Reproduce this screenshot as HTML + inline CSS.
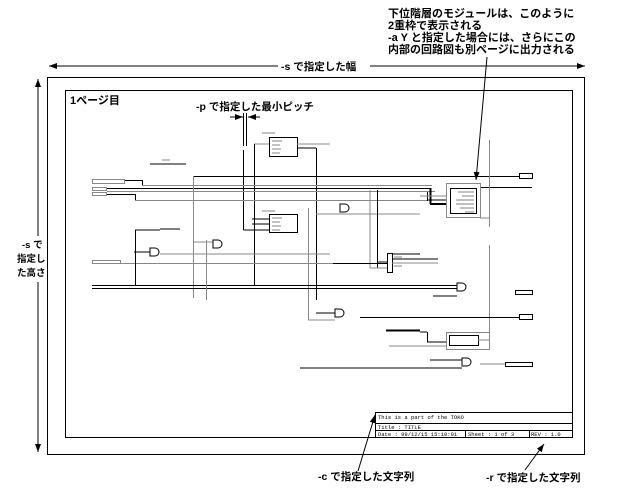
<!DOCTYPE html>
<html><head><meta charset="utf-8"><style>
html,body{margin:0;padding:0;background:#fff;}
svg{display:block;}
text{font-family:"Liberation Sans","Noto Sans CJK JP",sans-serif;font-weight:bold;fill:#000;}
.t{font-size:11px;}
.h{font-size:9.5px;}
.m{font-family:"Liberation Mono",monospace;font-size:5.5px;font-weight:normal;}
.g line{stroke:#999;stroke-width:1.2;}
</style></head><body>
<svg width="620" height="489" viewBox="0 0 620 489" xmlns="http://www.w3.org/2000/svg">
<defs>
<marker id="a" markerWidth="8" markerHeight="6" refX="8" refY="3" orient="auto" markerUnits="userSpaceOnUse"><path d="M0,0 L8,3 L0,6 z" fill="#000"/></marker>
</defs>
<text class="t" x="388" y="17">下位階層のモジュールは、このように</text>
<text class="t" x="388" y="29">2重枠で表示される</text>
<text class="t" x="388" y="41">-a Y と指定した場合には、さらにこの</text>
<text class="t" x="388" y="53">内部の回路図も別ページに出力される</text>
<line x1="487" y1="57" x2="476" y2="180" stroke="#000" stroke-width="1" marker-end="url(#a)"/>
<line x1="278" y1="66" x2="49" y2="66" stroke="#000" marker-end="url(#a)"/>
<line x1="370" y1="66" x2="585" y2="66" stroke="#000" marker-end="url(#a)"/>
<text class="t" x="281" y="70" style="font-size:10.5px">-s で指定した幅</text>
<line x1="38" y1="236" x2="38" y2="79" stroke="#000" marker-end="url(#a)"/>
<line x1="38" y1="282" x2="38" y2="452" stroke="#000" marker-end="url(#a)"/>
<text class="h" x="22" y="248">-s で</text>
<text class="h" x="17" y="262">指定し</text>
<text class="h" x="17" y="276">た高さ</text>
<rect x="47.5" y="77.5" width="537" height="377" fill="none" stroke="#000"/>
<rect x="65.5" y="90.5" width="507" height="347" fill="none" stroke="#000"/>
<text class="t" x="70" y="104">1ページ目</text>
<text class="t" x="196" y="110" style="font-size:10.5px">-p で指定した最小ピッチ</text>
<line x1="230" y1="117" x2="243" y2="117" stroke="#000" marker-end="url(#a)"/>
<line x1="260" y1="117" x2="248" y2="117" stroke="#000" marker-end="url(#a)"/>
<g fill="none" stroke-width="1">
<line x1="243.5" y1="113" x2="243.5" y2="146" stroke="#000"/>
<line x1="246.5" y1="113" x2="246.5" y2="146" stroke="#000"/>
<line x1="243.5" y1="150" x2="243.5" y2="230" stroke="#000"/>
<line x1="243.5" y1="230" x2="270" y2="230" stroke="#000"/>
<rect x="269.5" y="137.5" width="28" height="19" stroke="#000"/>
<rect x="269.5" y="214.5" width="28" height="18" stroke="#000"/>
<line x1="254" y1="144" x2="269" y2="144" stroke="#888"/>
<line x1="254.5" y1="144" x2="254.5" y2="285" stroke="#000"/>
<line x1="297" y1="144" x2="330" y2="144" stroke="#888"/>
<line x1="297" y1="148" x2="316" y2="148" stroke="#000"/>
<line x1="316.5" y1="148" x2="316.5" y2="300" stroke="#000"/>
<line x1="252" y1="219" x2="269" y2="219" stroke="#000"/>
<line x1="252" y1="224" x2="269" y2="224" stroke="#000"/>
<rect x="92.5" y="179.5" width="32" height="4" stroke="#888"/>
<rect x="92.5" y="187.5" width="14" height="3" stroke="#888"/>
<rect x="92.5" y="192.5" width="14" height="3" stroke="#888"/>
<line x1="193" y1="176.5" x2="519" y2="176.5" stroke="#000"/>
<line x1="125" y1="180.5" x2="142" y2="180.5" stroke="#000"/>
<line x1="142.5" y1="180" x2="142.5" y2="186" stroke="#000"/>
<line x1="142" y1="185.5" x2="432" y2="185.5" stroke="#888"/>
<line x1="107" y1="188.5" x2="430" y2="188.5" stroke="#000"/>
<line x1="107" y1="191.5" x2="435" y2="191.5" stroke="#888"/>
<line x1="107" y1="194.5" x2="135" y2="194.5" stroke="#000"/>
<line x1="135.5" y1="194" x2="135.5" y2="201" stroke="#000"/>
<line x1="135" y1="200.5" x2="428" y2="200.5" stroke="#888"/>
<line x1="193.5" y1="176" x2="193.5" y2="298" stroke="#888"/>
<line x1="430.5" y1="188" x2="430.5" y2="204" stroke="#000" stroke-width="2"/>
<line x1="430" y1="204" x2="446" y2="204" stroke="#000" stroke-width="2"/>
<line x1="427.5" y1="192" x2="427.5" y2="201" stroke="#000"/>
<line x1="427" y1="200" x2="446" y2="200" stroke="#000"/>
<line x1="420" y1="196" x2="446" y2="196" stroke="#888"/>
<rect x="446.5" y="183.5" width="34" height="34" stroke="#888"/>
<rect x="450.5" y="188.5" width="26" height="25" stroke="#000"/>
<line x1="481" y1="187.5" x2="532" y2="187.5" stroke="#000"/>
<rect x="519.5" y="173.5" width="13" height="5" stroke="#000"/>
<line x1="489.5" y1="140" x2="489.5" y2="227" stroke="#888"/>
<line x1="489.5" y1="245" x2="489.5" y2="340" stroke="#888"/>
<line x1="316" y1="214" x2="420" y2="214" stroke="#888"/>
<line x1="308.5" y1="208" x2="308.5" y2="320" stroke="#888"/>
<line x1="308" y1="320" x2="335" y2="320" stroke="#888"/>
<line x1="316" y1="313" x2="335" y2="313" stroke="#000"/>
<rect x="387.5" y="253.5" width="5" height="19" stroke="#000"/>
<line x1="370" y1="251" x2="370" y2="262" stroke="#000"/>
<line x1="377.5" y1="190" x2="377.5" y2="268" stroke="#000"/>
<line x1="370" y1="190" x2="370" y2="268" stroke="#888"/>
<line x1="370" y1="268" x2="387" y2="268" stroke="#888"/>
<line x1="377" y1="262" x2="387" y2="262" stroke="#000"/>
<line x1="333" y1="263.5" x2="387" y2="263.5" stroke="#000"/>
<line x1="392" y1="254" x2="420" y2="254" stroke="#000"/>
<line x1="392" y1="259" x2="438" y2="259" stroke="#000"/>
<line x1="392" y1="263" x2="438" y2="263" stroke="#888"/>
<line x1="92" y1="263.5" x2="333" y2="263.5" stroke="#888"/>
<rect x="92.5" y="260.5" width="28" height="3" stroke="#888"/>
<line x1="92" y1="285.5" x2="457" y2="285.5" stroke="#000"/>
<line x1="92" y1="288.5" x2="457" y2="288.5" stroke="#000"/>
<line x1="135.5" y1="230" x2="135.5" y2="285" stroke="#000"/>
<line x1="135" y1="230" x2="160" y2="230" stroke="#000"/>
<line x1="134" y1="252" x2="150" y2="252" stroke="#000"/>
<line x1="193" y1="242" x2="213" y2="242" stroke="#888"/>
<line x1="160" y1="254" x2="330" y2="254" stroke="#888"/>
<line x1="206.5" y1="240" x2="206.5" y2="300" stroke="#888"/>
<line x1="433" y1="296" x2="457" y2="296" stroke="#000"/>
<line x1="360" y1="317.5" x2="519" y2="317.5" stroke="#000"/>
<rect x="519.5" y="314.5" width="13" height="5" stroke="#000"/>
<rect x="515.5" y="290.5" width="17" height="4" stroke="#000"/>
<rect x="449.5" y="335.5" width="29" height="10" stroke="#000"/>
<rect x="446.5" y="332.5" width="43" height="17" stroke="#888"/>
<line x1="386" y1="330.5" x2="420" y2="330.5" stroke="#000" stroke-width="2"/>
<line x1="420" y1="332" x2="427" y2="332" stroke="#000"/>
<line x1="427.5" y1="332" x2="427.5" y2="342" stroke="#000"/>
<line x1="427" y1="342" x2="446" y2="342" stroke="#000"/>
<line x1="389" y1="346" x2="446" y2="346" stroke="#888"/>
<line x1="489.5" y1="340" x2="478" y2="340" stroke="#888"/>
<line x1="430" y1="360" x2="462" y2="360" stroke="#000"/>
<line x1="300" y1="368" x2="462" y2="368" stroke="#000"/>
<line x1="480" y1="364" x2="505" y2="364" stroke="#888"/>
<rect x="505.5" y="362.5" width="27" height="4" stroke="#000"/>
<path d="M457 283 h5 a4 4 0 0 1 0 8 h-5 z" stroke="#000"/>
<path d="M462 358 h5 a4 4 0 0 1 0 8 h-5 z" stroke="#000"/>
<path d="M335 309 h5 a4 4 0 0 1 0 8 h-5 z" stroke="#000"/>
<path d="M150 248 h5 a4 4 0 0 1 0 8 h-5 z" stroke="#000"/>
<path d="M213 240 h5 a4 4 0 0 1 0 8 h-5 z" stroke="#000"/>
<path d="M340 204 h5 a4 4 0 0 1 0 8 h-5 z" stroke="#000"/>
<line x1="150" y1="164" x2="186" y2="164" stroke="#000"/>
<line x1="160" y1="229" x2="180" y2="229" stroke="#000"/>
<line x1="480" y1="218" x2="489" y2="218" stroke="#888"/>
</g>
<!-- tiny pin labels (simulated) -->
<g class="g">
<line x1="272" y1="141" x2="282" y2="141"/><line x1="272" y1="145" x2="280" y2="145"/><line x1="272" y1="149" x2="281" y2="149"/><line x1="272" y1="153" x2="280" y2="153"/>
<line x1="272" y1="218" x2="282" y2="218"/><line x1="272" y1="222" x2="280" y2="222"/><line x1="272" y1="226" x2="281" y2="226"/><line x1="272" y1="230" x2="280" y2="230"/>
<line x1="458" y1="192" x2="474" y2="192"/><line x1="462" y1="196" x2="474" y2="196"/><line x1="456" y1="200" x2="474" y2="200"/><line x1="456" y1="204" x2="474" y2="204"/><line x1="460" y1="208" x2="474" y2="208"/><line x1="465" y1="212" x2="474" y2="212"/>
<line x1="394" y1="257" x2="402" y2="257"/><line x1="394" y1="266" x2="402" y2="266"/>
<line x1="162" y1="160" x2="170" y2="160"/><line x1="262" y1="133" x2="275" y2="133"/><line x1="262" y1="211" x2="275" y2="211"/>
</g>
<rect x="375.5" y="412.5" width="197" height="25" fill="none" stroke="#000"/>
<line x1="375" y1="423.5" x2="572" y2="423.5" stroke="#000"/>
<line x1="375" y1="430.5" x2="572" y2="430.5" stroke="#000"/>
<line x1="465.5" y1="430" x2="465.5" y2="437" stroke="#000"/>
<line x1="529.5" y1="430" x2="529.5" y2="437" stroke="#000"/>
<text class="m" x="378" y="419">This is a part of the TOKO</text>
<text class="m" x="378" y="429">Title : TITLE</text>
<text class="m" x="378" y="436">Date : 99/12/15 15:10:01</text>
<text class="m" x="468" y="436">Sheet : 1 of 3</text>
<text class="m" x="531" y="436">REV : 1.0</text>
<line x1="358" y1="471" x2="375" y2="415" stroke="#000" marker-end="url(#a)"/>
<line x1="525" y1="470" x2="544" y2="444" stroke="#000" marker-end="url(#a)"/>
<text class="t" x="318" y="480" style="font-size:10.5px">-c で指定した文字列</text>
<text class="t" x="486" y="481" style="font-size:10.5px">-r で指定した文字列</text>
</svg>
</body></html>
